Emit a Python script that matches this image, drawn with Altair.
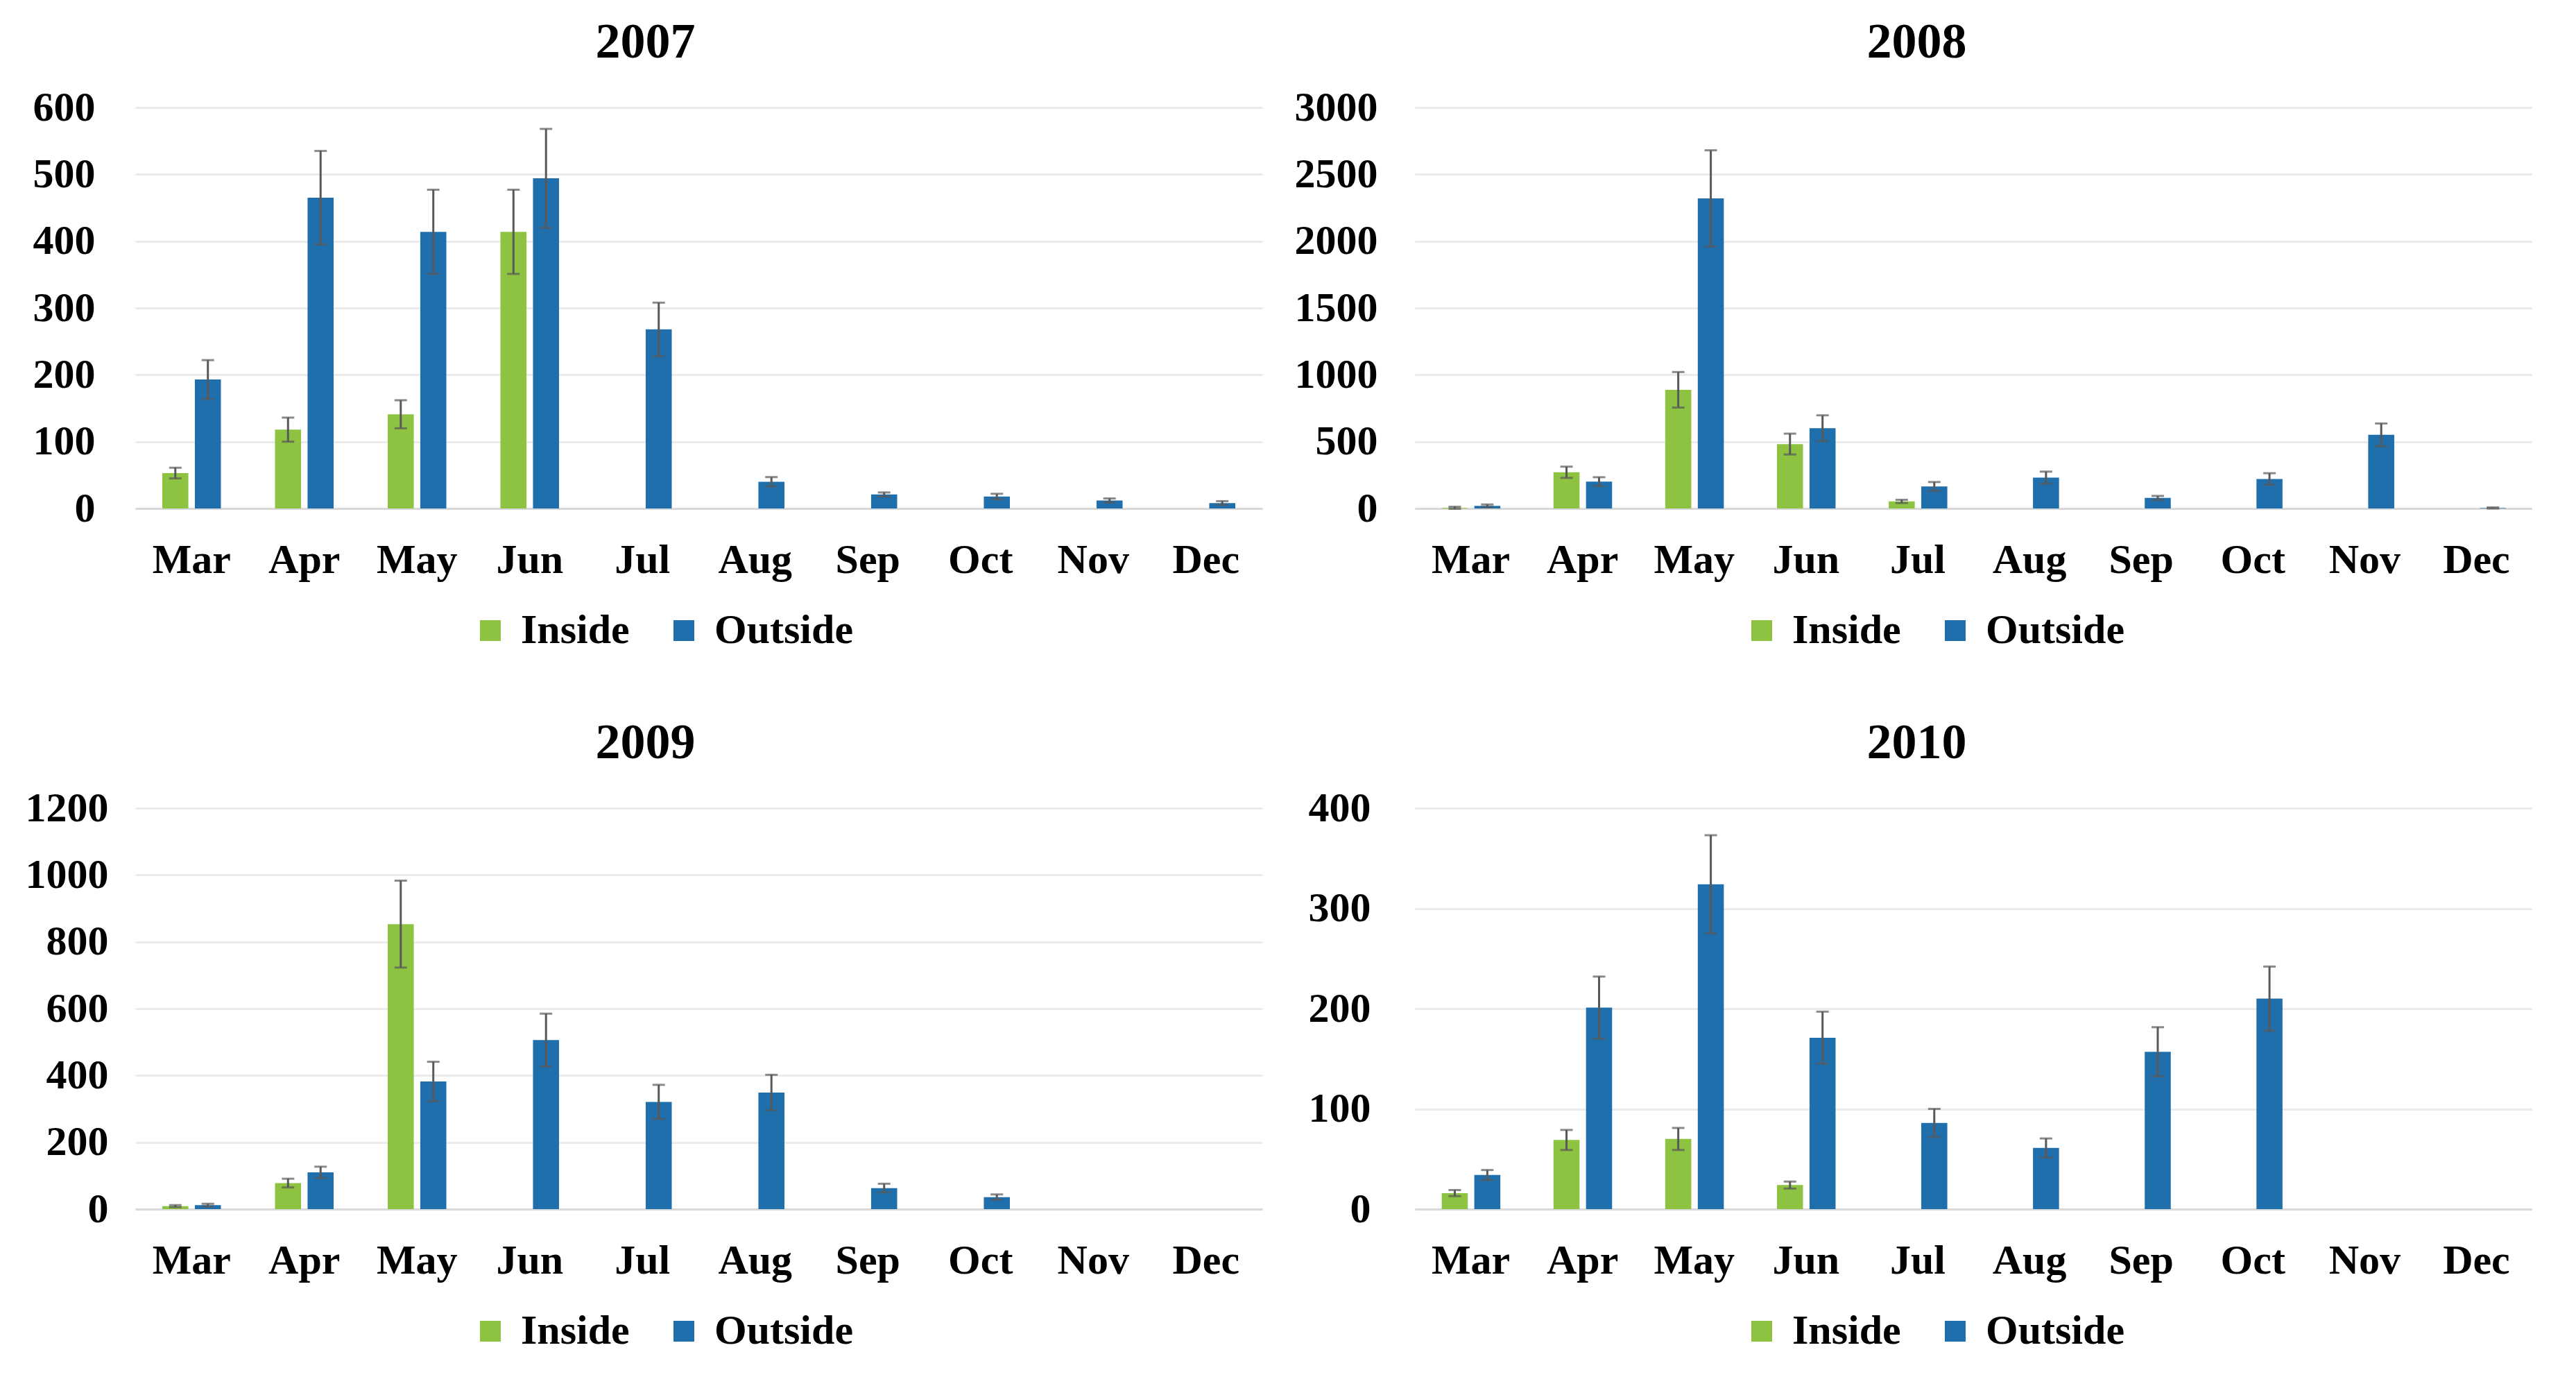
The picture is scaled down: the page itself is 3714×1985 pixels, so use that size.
import altair as alt
import pandas as pd

months = ["Mar", "Apr", "May", "Jun", "Jul", "Aug", "Sep", "Oct", "Nov", "Dec"]
series = ["Inside", "Outside"]

inside_2007 = [53, 118, 141, 414, None, None, None, None, None, None]
inside_err_2007 = [8, 18, 21, 63, None, None, None, None, None, None]
outside_2007 = [193, 465, 414, 494, 268, 40, 21, 18, 12, 8]
outside_err_2007 = [29, 70, 63, 74, 40, 7, 3, 4, 3, 3]

inside_2008 = [5, 271, 888, 482, 53, None, None, None, None, None]
inside_err_2008 = [8, 42, 133, 78, 12, None, None, None, None, None]
outside_2008 = [20, 201, 2320, 601, 165, 231, 79, 221, 551, 4]
outside_err_2008 = [10, 33, 360, 96, 33, 45, 15, 43, 85, 4]

inside_2009 = [9, 78, 853, None, None, None, None, None, None, None]
inside_err_2009 = [3, 13, 130, None, None, None, None, None, None, None]
outside_2009 = [12, 110, 382, 506, 321, 349, 63, 36, None, None]
outside_err_2009 = [4, 17, 59, 79, 51, 53, 13, 8, None, None]

inside_2010 = [16, 69, 70, 24, None, None, None, None, None, None]
inside_err_2010 = [3, 10, 11, 3.5, None, None, None, None, None, None]
outside_2010 = [34, 201, 324, 171, 86, 61, 157, 210, None, None]
outside_err_2010 = [5, 31, 49, 26, 14, 9.5, 24.5, 32, None, None]

ticks_2007 = [0, 100, 200, 300, 400, 500, 600]
ticks_2008 = [0, 500, 1000, 1500, 2000, 2500, 3000]
ticks_2009 = [0, 200, 400, 600, 800, 1000, 1200]
ticks_2010 = [0, 100, 200, 300, 400]

GREEN = "#8DC341"
BLUE = "#1F6FAD"
FONT = "Liberation Serif"


def make_df(ins, ins_e, out, out_e):
    rows = []
    for m, v, e in zip(months, ins, ins_e):
        if v is not None:
            rows.append({"month": m, "series": "Inside", "value": v, "lo": v - e, "hi": v + e})
    for m, v, e in zip(months, out, out_e):
        if v is not None:
            rows.append({"month": m, "series": "Outside", "value": v, "lo": v - e, "hi": v + e})
    return pd.DataFrame(rows)


def panel(title, df, ticks, width, legend_x, ylab_pad, title_dx):
    x = alt.X("month:N", sort=months,
              scale=alt.Scale(domain=months, paddingInner=0.48, paddingOuter=0.24),
              axis=alt.Axis(title=None, labelAngle=0, labelFont=FONT, labelFontSize=60,
                            labelFontWeight="bold", labelColor="#000000", labelPadding=45,
                            ticks=False, grid=False, domainColor="#D9D9D9", domainWidth=3))
    xo = alt.XOffset("series:N", sort=series,
                     scale=alt.Scale(domain=series, paddingInner=0.2, paddingOuter=0))
    y_scale = alt.Scale(domain=[ticks[0], ticks[-1]], nice=False)
    y = alt.Y("value:Q", scale=y_scale,
              axis=alt.Axis(title=None, values=ticks, format="d", labelFont=FONT,
                            labelFontSize=60, labelFontWeight="bold", labelColor="#000000",
                            labelPadding=ylab_pad, ticks=False, domain=False,
                            gridColor="#EBEBEB", gridWidth=3))
    color = alt.Color("series:N", sort=series,
                      scale=alt.Scale(domain=series, range=[GREEN, BLUE]),
                      legend=alt.Legend(title=None, orient="none", direction="horizontal",
                                        legendX=legend_x, legendY=724,
                                        labelFont=FONT, labelFontSize=60,
                                        labelFontWeight="bold", labelColor="#000000",
                                        labelLimit=0,
                                        symbolType="square", symbolSize=900,
                                        symbolStrokeWidth=0, labelOffset=14,
                                        columnPadding=48))
    xs = alt.X("month:N", sort=months)
    xos = alt.XOffset("series:N", sort=series)
    bars = alt.Chart(df).mark_bar().encode(x=x, xOffset=xo, y=y, color=color)
    err = alt.Chart(df).mark_rule(color="#595959", strokeWidth=3).encode(
        x=xs, xOffset=xos, y=alt.Y("lo:Q"), y2="hi:Q")
    cap_hi = alt.Chart(df).mark_tick(color="#595959", thickness=3, size=18).encode(
        x=xs, xOffset=xos, y=alt.Y("hi:Q"))
    cap_lo = alt.Chart(df).mark_tick(color="#595959", thickness=3, size=18).encode(
        x=xs, xOffset=xos, y=alt.Y("lo:Q"))
    return alt.layer(bars, err, cap_hi, cap_lo).properties(
        width=width, height=578,
        title=alt.TitleParams(title, font=FONT, fontSize=72, fontWeight="bold",
                              color="#000000", offset=27, anchor="middle", dx=title_dx))


p07 = panel("2007", make_df(inside_2007, inside_err_2007, outside_2007, outside_err_2007),
            ticks_2007, 1625, 482, 58, -77)
p08 = panel("2008", make_df(inside_2008, inside_err_2008, outside_2008, outside_err_2008),
            ticks_2008, 1611, 470, 54, -82)
p09 = panel("2009", make_df(inside_2009, inside_err_2009, outside_2009, outside_err_2009),
            ticks_2009, 1625, 482, 39, -77)
p10 = panel("2010", make_df(inside_2010, inside_err_2010, outside_2010, outside_err_2010),
            ticks_2010, 1611, 470, 64, -82)

chart = alt.concat(p07, p08, p09, p10, columns=2,
                   spacing={"row": 96, "column": 46}).resolve_scale(
    color="independent", y="independent", x="independent").resolve_legend(
    color="independent").properties(
    padding={"left": 28, "top": 17, "right": 0, "bottom": 0},
    background="#FFFFFF"
).configure_view(stroke="transparent", strokeWidth=0)

chart.save("out.html", embed_options={"renderer": "svg", "actions": False})
